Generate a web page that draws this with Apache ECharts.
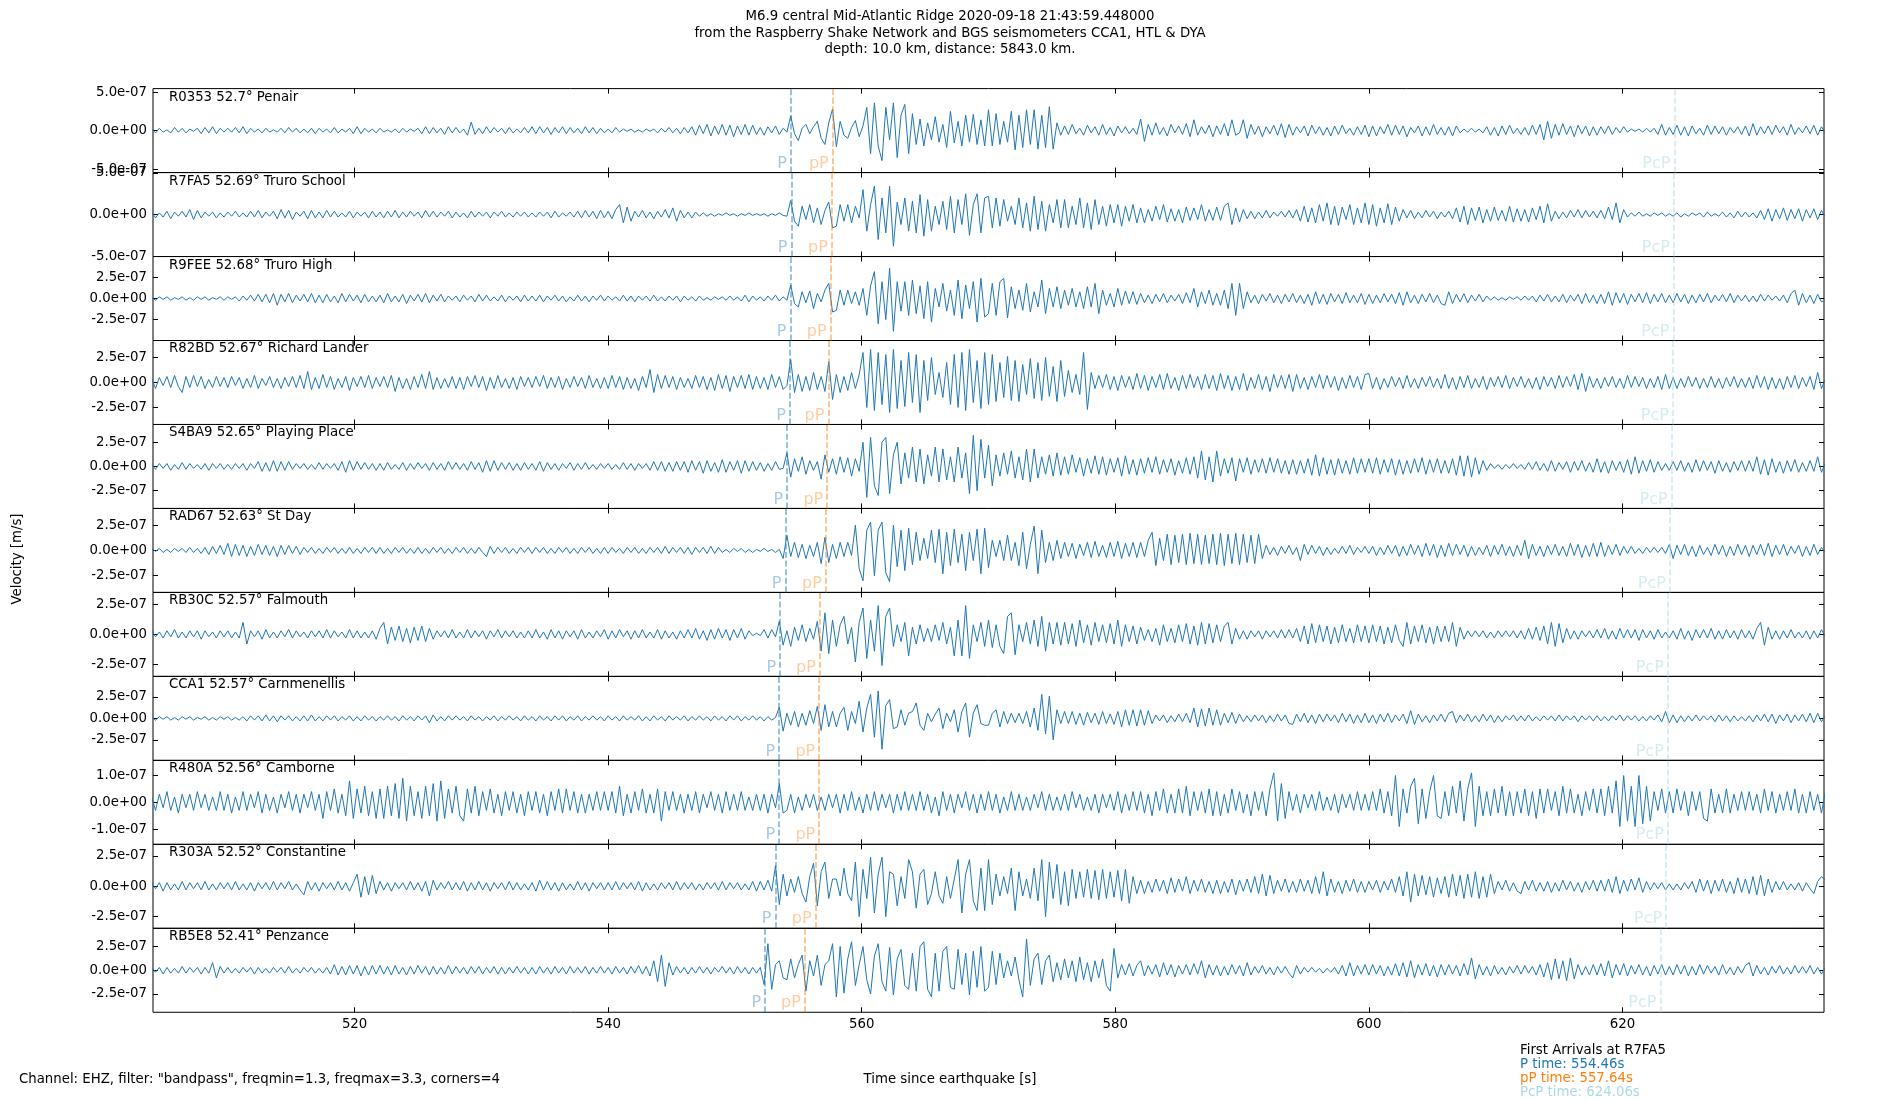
<!DOCTYPE html>
<html>
<head>
<meta charset="utf-8">
<title>M6.9 central Mid-Atlantic Ridge - Raspberry Shake & BGS</title>
<script src="https://cdn.jsdelivr.net/npm/echarts@6/dist/echarts.min.js"></script>
<style>
  html, body { margin: 0; padding: 0; background: #fff; }
  #chart { width: 1900px; height: 1100px; }
</style>
</head>
<body>
<div id="chart"></div>
<script>
// time axis (seconds since the earthquake)
const T0 = 504.0;       // time of first sample
const DT = 0.3;         // sample spacing
const ROW_SPAN = 6.0;   // each data row below covers 6 s (20 samples)
const X_MIN = 504.1, X_MAX = 635.9;
const X_TICKS = [520, 540, 560, 580, 600, 620];

const stations = [
  'R0353 52.7° Penair', 'R7FA5 52.69° Truro School', 'R9FEE 52.68° Truro High',
  'R82BD 52.67° Richard Lander', 'S4BA9 52.65° Playing Place', 'RAD67 52.63° St Day',
  'RB30C 52.57° Falmouth', 'CCA1 52.57° Carnmenellis', 'R480A 52.56° Camborne',
  'R303A 52.52° Constantine', 'RB5E8 52.41° Penzance'
];
const yLimit = [5.45e-7, 5.05e-7, 4.99e-7, 4.2e-7, 4.33e-7, 4.15e-7, 3.5e-7, 4.9e-7, 1.565e-7, 3.46e-7, 4.42e-7];
const yStep  = [5e-7, 5e-7, 2.5e-7, 2.5e-7, 2.5e-7, 2.5e-7, 2.5e-7, 2.5e-7, 1e-7, 2.5e-7, 2.5e-7];

// phase arrival times per station
const pTime   = [554.41, 554.46, 554.37, 554.33, 554.12, 553.99, 553.57, 553.48, 553.48, 553.19, 552.38];
const pPTime  = [557.71, 557.64, 557.54, 557.37, 557.28, 557.17, 556.70, 556.65, 556.65, 556.36, 555.52];
const PcPTime = [624.10, 624.06, 624.02, 623.98, 623.88, 623.75, 623.58, 623.58, 623.58, 623.45, 623.00];

// filtered velocity, units of 1e-8 m/s
const R0353 = [
  [2,-3,3,-2,1,-3,4,-2,3,-3,2,-1,3,-4,4,-3,5,-4,3,-2],
  [3,-2,4,-3,5,-4,3,-2,2,-3,3,-2,1,-2,3,-3,4,-2,3,-3],
  [2,-3,3,-4,3,-2,2,-3,4,-3,2,-2,3,-4,5,-4,3,-2,2,-3],
  [3,-2,1,-2,2,-3,3,-2,2,-1,3,-4,5,-4,4,-3,3,-5,5,-3],
  [4,-3,2,-6,11,-5,3,-4,5,-3,4,-2,3,-4,4,-3,2,-3,4,-3],
  [5,-4,5,-3,4,-5,4,-3,5,-4,4,-3,3,-4,5,-3,4,-4,3,-3],
  [2,-3,4,-2,2,-1,2,-2,1,-2,2,-1,2,-3,3,-2,4,-3,3,-4],
  [4,-3,5,-6,7,-4,8,-7,6,-5,8,-6,7,-8,6,-5,8,-6,7,-5],
  [4,-6,5,-3,6,-5,3,-2,19,-4,-13,3,8,-4,5,12,-10,-18,10,28],
  [-21,12,-6,-10,4,13,-8,6,30,-30,36,-20,-39,30,-12,36,-35,20,34,-30],
  [22,-18,15,-20,10,-12,18,-15,8,-22,25,-16,12,-20,20,-15,21,-18,14,-20],
  [27,-20,22,-18,12,-15,25,-25,20,-22,27,-18,27,-24,20,-22,31,-24,10,-6],
  [6,-5,8,-4,3,-6,7,-3,5,-6,8,-5,4,-7,6,-3,5,-4,3,-5],
  [15,-14,8,-6,10,-5,4,-7,8,-3,6,-5,9,-8,14,-6,5,-4,7,-8],
  [6,-5,9,-7,14,-6,-3,14,-10,8,-5,6,-8,5,-4,7,-6,9,-9,8],
  [-6,5,-3,6,-7,7,-4,5,-6,4,-7,6,-5,7,-4,3,-6,5,-5,7],
  [-8,6,-7,5,-4,8,-6,7,-5,6,-8,4,-3,6,-7,5,-6,8,-5,4],
  [-6,5,-7,6,-3,2,-2,3,-2,2,-3,5,-6,4,-7,6,-5,7,-4,3],
  [-5,4,-6,7,-5,8,-12,12,-10,8,-6,9,-5,6,-8,7,-4,6,-7,5],
  [-6,5,-4,6,-5,4,-3,5,-2,2,-1,2,-2,3,-2,3,-5,8,-6,4],
  [-5,7,-6,5,-7,6,-4,3,-6,7,-5,6,-4,5,-6,4,-3,5,-5,6],
  [-7,9,-6,5,-4,6,-5,7,-3,5,-6,8,-5,4,-3,6,-4,7,-6,5],
  [-3]
];
const R7FA5 = [
  [3,-4,2,-3,4,-5,3,-2,4,-3,6,-6,5,-4,3,-2,3,-4,2,-3],
  [3,-2,4,-3,2,-3,4,-3,5,-4,3,-2,4,-5,6,-4,5,-6,3,-2],
  [4,-5,5,-4,3,-4,5,-3,4,-3,2,-3,4,-4,3,-2,3,-4,4,-3],
  [3,-4,4,-3,5,-4,3,-3,4,-2,3,-4,5,-3,4,-3,3,-2,4,-4],
  [3,-3,2,-4,4,-3,3,-2,3,-4,3,-2,4,-3,2,-3,3,-2,3,-3],
  [2,-3,3,-2,3,-4,4,-3,2,-2,3,-3,4,-4,5,-3,4,-5,5,-4],
  [4,-5,6,12,-10,9,-8,4,-3,5,-4,3,-5,4,-3,6,-4,8,-8,5],
  [-4,3,-4,3,-2,2,-2,1,-2,1,-1,2,-1,1,-2,1,-1,2,-1,1],
  [-1,1,-2,1,-1,2,-1,-2,17,-8,-14,10,-6,12,-10,8,-12,5,15,-16],
  [-14,12,-8,12,-10,10,-4,30,-20,12,34,-30,20,-22,34,-38,15,-12,20,-20],
  [16,-22,24,-26,18,-20,10,-12,16,-18,22,-22,18,-12,25,-25,12,25,-22,20],
  [22,-16,20,-14,18,-8,10,-12,20,-16,14,-20,22,-18,16,-20,12,-10,18,-16],
  [18,-16,10,-12,20,-16,14,-18,18,-12,10,-14,12,-10,12,-14,10,-8,12,-10],
  [8,-10,6,-8,10,-6,12,-9,7,-8,6,-10,9,-7,8,-6,12,-8,6,-7],
  [9,-7,10,14,-12,8,-9,6,-5,4,-5,3,-4,5,-4,3,-2,4,-3,5],
  [-4,6,-8,10,-9,8,-10,12,-8,14,-12,10,-13,9,-6,12,-12,8,-10,14],
  [-12,12,-14,8,-10,13,-12,9,-8,6,-4,5,-5,3,-4,5,-3,4,-5,3],
  [-3,4,-5,8,-9,10,-12,8,-7,9,-10,6,-8,9,-7,5,-8,10,-9,7],
  [-8,6,-9,8,-6,10,-10,13,-8,4,-5,3,-4,5,-3,6,-4,5,-3,4],
  [-4,5,-5,9,-6,14,-10,6,-3,2,-2,3,-2,1,-2,2,-1,2,-2,1],
  [-2,2,-3,1,-2,2,-1,2,-3,3,-2,1,-2,3,-3,2,-4,4,-3,3],
  [-3,2,-4,5,-6,7,-8,6,-5,8,-7,6,-5,7,-8,6,-4,7,-6,5],
  [-3]
];
const R9FEE = [
  [1,-2,2,-1,2,-2,1,-1,2,-2,1,-2,2,-1,2,-2,1,-1,2,-2],
  [2,-1,2,-3,3,-2,4,-3,5,-4,5,-5,6,-8,5,-4,6,-5,4,-3],
  [5,-4,6,-5,4,-5,5,-4,3,-5,6,-4,5,-3,4,-5,5,-4,3,-4],
  [4,-5,6,-4,3,-4,5,-6,4,-3,5,-4,6,-5,4,-3,5,-4,3,-2],
  [3,-4,4,-2,3,-4,5,-3,4,-3,2,-3,4,-4,3,-2,3,-4,4,-3],
  [3,-3,4,-4,3,-2,4,-3,3,-4,2,-3,4,-3,3,-4,3,-2,4,-3],
  [3,-2,2,-3,4,-3,3,-4,3,-2,3,-3,4,-3,2,-3,3,-2,3,-4],
  [3,-2,2,-3,3,-2,1,-2,2,-1,2,-2,3,-2,2,-3,4,-4,3,-2],
  [2,-3,3,-2,4,-3,2,-2,16,-6,-10,8,-5,9,-12,6,-4,10,18,-16],
  [-14,10,-8,10,-6,8,-8,12,-20,15,32,-30,20,-25,36,-39,20,-15,20,-20],
  [22,-18,15,-24,20,-28,12,-10,18,-15,10,-20,22,-24,16,-12,20,-28,24,-22],
  [-18,18,-20,20,24,-23,14,-12,10,-14,18,-16,8,-10,22,-18,12,-10,14,-12],
  [10,-8,12,-10,8,-12,14,-10,18,-18,10,-8,6,-10,12,-8,9,-6,8,-7],
  [6,-5,4,-6,5,-4,6,-5,4,-3,5,-6,7,-5,12,-10,8,-6,10,-8],
  [6,-8,10,-12,18,-20,18,-12,8,-5,4,-6,5,-3,6,-5,4,-6,5,-4],
  [6,-5,4,-6,5,-8,8,-6,5,-7,6,-4,5,-6,7,-5,4,-5,6,-7],
  [5,-6,4,-5,6,-4,5,-6,7,-8,8,-5,4,-6,5,-4,6,-5,4,-6],
  [-8,8,-6,5,-4,6,-5,4,-3,5,-4,3,-2,2,-2,1,-2,2,-1,2],
  [-2,3,-2,3,-4,4,-3,5,-4,3,-4,5,-5,4,-3,5,-6,6,-5,4],
  [-6,5,-6,8,-8,7,-5,6,-7,5,-4,6,-5,7,-6,5,-4,6,-5,4],
  [-5,6,-4,5,-6,4,-5,5,-4,6,-5,4,-3,5,-4,6,-5,4,-3,4],
  [-4,3,-4,5,-3,4,-2,3,-3,4,-5,6,10,-8,6,-5,4,-6,5,-4],
  [-2]
];
const R82BD = [
  [4,-6,5,-3,6,-5,7,-4,-10,6,-5,7,-4,6,-6,3,-5,6,-4,5],
  [-5,6,-3,5,-6,4,-5,7,-6,4,-3,6,-5,4,-6,5,-4,6,-5,7],
  [-6,11,-7,5,-6,8,-5,6,-7,4,-5,6,-8,5,-4,6,-5,7,-6,5],
  [-4,6,-5,7,-9,5,-6,4,-7,6,-5,8,-6,11,-7,5,-6,4,-5,6],
  [-6,5,-7,6,-4,7,-5,6,-8,5,-6,7,-5,4,-6,5,-7,6,-4,5],
  [-5,6,-4,7,-6,5,-5,6,-7,4,-5,6,-4,5,-6,7,-5,4,-6,5],
  [-6,7,-5,6,-7,5,-6,4,-8,6,-5,13,-10,8,-6,7,-5,6,-7,5],
  [-5,4,-6,7,-5,6,-7,5,-8,8,-6,7,-9,6,-5,7,-6,8,-7,6],
  [-6,5,-7,8,-5,6,-7,-3,23,-10,8,-9,6,-8,10,-7,6,-9,21,-17],
  [8,-10,6,-8,10,-6,8,30,-25,33,-28,30,-22,28,-30,33,-26,22,-24,30],
  [-20,28,-30,22,-18,25,-12,10,-15,20,-22,28,-25,30,-28,33,-20,22,-26,30],
  [-22,28,-19,20,-15,26,-18,22,-19,18,-12,24,-16,20,-18,25,-14,16,-19,22],
  [-14,12,-10,8,-12,30,-27,10,-6,7,-5,8,-7,6,-8,7,-5,6,-7,9],
  [-6,7,-8,6,-5,8,-7,9,-6,5,-8,7,-6,8,-5,6,-7,8,-6,7],
  [-8,9,-6,7,-8,6,-7,9,-8,5,-6,8,-7,6,-9,8,-5,7,-6,8],
  [-9,8,-6,5,-7,6,-5,8,-6,7,-5,6,-8,5,-6,7,-5,6,-7,8],
  [9,-6,5,-7,4,-5,6,-4,5,-6,7,-5,4,-6,5,-4,6,-5,4,-6],
  [8,-6,5,-7,6,-5,7,-6,4,-5,6,-7,5,-4,6,-5,7,-6,5,-4],
  [6,-5,4,-6,5,-7,6,-4,5,-6,7,-5,6,-4,8,-7,9,-9,6,-5],
  [4,-6,5,-4,6,-5,4,-6,7,-5,6,-4,5,-6,4,-5,6,-7,8,-6],
  [5,-6,4,-5,6,-4,5,-6,4,-5,6,-5,4,-6,5,-4,6,-5,4,-5],
  [5,-6,7,-5,6,-7,5,-6,4,-7,6,-5,7,-6,5,-4,6,-7,10,-6],
  [3]
];
const S4BA9 = [
  [2,-3,3,-2,3,-4,2,-3,4,-3,3,-2,2,-3,3,-4,3,-2,3,-3],
  [2,-3,3,-2,3,-4,3,-2,5,-5,4,-5,6,-5,5,-4,5,-3,3,-2],
  [3,-3,2,-3,4,-3,3,-2,3,-4,5,-6,6,-4,5,-3,4,-3,3,-4],
  [3,-4,4,-3,2,-3,4,-4,3,-3,4,-2,3,-4,4,-3,3,-4,5,-3],
  [4,-3,3,-4,5,-3,4,-6,6,-5,6,-4,4,-3,4,-4,3,-4,4,-3],
  [3,-4,5,-5,4,-3,3,-4,3,-2,4,-4,3,-3,4,-3,2,-3,3,-2],
  [3,-3,2,-3,4,-3,3,-4,3,-2,3,-4,5,-4,5,-5,4,-5,5,-4],
  [5,-6,6,-4,5,-7,6,-5,4,-6,7,-6,5,-4,6,-7,6,-5,5,-4],
  [4,-5,3,-4,5,-3,-2,14,-11,8,-5,10,-8,6,-4,5,-13,12,-6,8],
  [-8,10,-6,9,-10,8,-5,25,-32,30,-20,-30,25,30,-28,12,25,-18,14,-12],
  [20,-16,18,-18,12,-10,20,-16,18,-14,10,-16,20,-12,14,-28,32,-25,28,-12],
  [22,-20,12,-10,14,-8,16,-12,10,-14,18,-16,18,-12,10,-8,12,-10,14,-9],
  [10,-8,12,-6,9,-10,8,-7,11,-8,10,-9,8,-6,9,-10,11,-8,7,-9],
  [8,-7,9,-6,10,-8,7,-6,8,-9,6,-7,9,-8,10,-12,16,-14,10,-16],
  [16,-10,8,-7,9,-15,8,-6,9,-8,7,-6,8,-7,9,-6,8,-7,6,-8],
  [7,-8,6,-7,8,-9,12,-10,9,-8,7,-9,8,-7,6,-8,9,-7,8,-6],
  [8,-7,9,-8,7,-6,8,-9,7,-8,6,-7,8,-6,9,-8,7,-6,8,-7],
  [6,-7,8,-9,11,-10,11,-11,9,-8,6,-4,3,-2,2,-3,2,-2,3,-2],
  [2,-3,4,-3,5,-4,3,-5,6,-5,4,-3,5,-6,5,-4,6,-5,4,-6],
  [8,-6,5,-7,6,-4,5,-6,7,-8,10,-7,6,-5,7,-6,5,-4,3,-4],
  [5,-4,6,-5,4,-6,7,-5,6,-4,5,-7,6,-5,4,-6,5,-4,6,-5],
  [6,-5,10,-8,7,-9,8,-6,5,-7,6,-5,7,-6,4,-5,6,-5,10,-6],
  [3]
];
const RAD67 = [
  [2,-1,2,-2,1,-2,2,-1,2,-2,3,-2,2,-3,3,-4,4,-3,5,-4],
  [7,-6,6,-5,5,-6,4,-5,6,-4,5,-5,4,-6,5,-4,5,-3,4,-4],
  [3,-2,3,-3,2,-3,3,-2,3,-3,2,-3,3,-3,2,-3,3,-2,3,-3],
  [3,-3,2,-3,3,-2,3,-3,2,-3,3,-3,2,-3,3,-2,3,-3,2,-3],
  [3,-2,3,-3,2,-3,3,-2,-6,4,-3,3,-2,3,-3,2,-3,3,-2,3],
  [-3,3,-2,3,-3,2,-3,3,-2,3,-3,2,-3,3,-2,3,-3,2,-3,3],
  [-3,3,-2,2,-3,3,-2,3,-3,2,-3,3,-2,3,-3,4,-3,3,-2,3],
  [-3,3,-4,3,-2,3,-3,4,-3,3,-2,1,-2,2,-1,2,-2,1,-2,1],
  [-1,2,-1,1,-2,1,-8,15,-6,8,-7,6,-8,5,-6,8,-13,13,-12,6],
  [-8,8,-6,8,-5,25,-18,-30,20,28,-25,20,28,-22,-31,25,-16,20,-20,22],
  [-14,18,-10,12,-8,20,-12,21,-23,18,-15,21,-12,16,-20,18,-10,21,-23,22],
  [-17,10,-6,10,-10,15,-10,8,-15,18,-18,6,24,-23,20,-12,8,-10,10,-8],
  [8,-6,7,-8,6,-5,8,-7,9,-6,5,-7,8,-6,9,-8,7,-6,8,-7],
  [8,-6,10,18,-15,12,-10,16,-14,15,-12,16,-14,17,-13,16,-14,15,-13,16],
  [-14,17,-15,16,-13,17,-14,16,-12,15,-13,16,-8,5,-4,3,-5,4,-3,5],
  [-4,3,-10,6,-4,5,-3,4,-5,3,-4,2,-3,4,-3,5,-4,3,-2,4],
  [-3,4,-5,3,-4,5,-3,5,-6,4,-5,6,-4,5,-6,7,-5,6,-7,5],
  [-6,7,-5,6,-4,5,-6,4,-5,3,-4,5,-6,5,-4,6,-5,4,-6,5],
  [-5,10,-8,6,-5,4,-6,5,-4,6,-5,4,-6,7,-5,6,-7,5,-6,7],
  [-6,8,-6,5,-4,6,-5,4,-3,4,-3,2,-3,3,-2,3,-2,3,-3,6],
  [-8,5,-4,6,-5,4,-6,5,-4,3,-5,6,-4,5,-6,4,-5,6,-4,5],
  [-6,5,-4,6,-5,7,-6,5,-4,6,-5,4,-3,5,-6,4,-5,6,-4,3],
  [-2]
];
const RB30C = [
  [3,-2,2,-3,3,-2,4,-3,2,-3,3,-2,3,-4,3,-2,2,-3,3,-2],
  [3,-3,2,-3,10,-8,3,-2,3,-4,4,-3,2,-3,3,-2,4,-3,3,-2],
  [2,-3,3,-2,3,-3,4,-3,3,-2,2,-3,4,-3,3,-3,2,-3,3,-4],
  [5,10,-8,6,-5,7,-6,5,-7,6,-5,7,-6,5,-4,3,-2,3,-3,4],
  [-3,2,-3,4,-3,3,-2,3,-4,3,-2,4,-3,3,-2,3,-3,2,-3,3],
  [-3,4,-3,2,-4,4,-3,3,-4,3,-2,3,-4,4,-3,2,-3,3,-2,4],
  [-4,3,-3,4,-2,3,-4,3,-3,4,-3,2,-3,4,-4,3,-3,2,-4,3],
  [-3,4,-3,5,-4,3,-5,4,-4,5,-3,4,-5,4,-3,5,-4,3,-1,1],
  [-1,4,-3,4,-2,11,-9,3,-10,6,-5,8,-6,5,-4,11,-14,18,-16,12],
  [-10,8,15,-8,6,-23,10,22,-20,12,-14,24,-26,15,22,-10,8,-6,10,-18],
  [6,-8,8,-6,5,-6,8,-5,10,-8,6,-18,12,-18,24,-20,8,-6,10,-10],
  [12,-11,8,-10,-16,15,18,-17,8,-6,10,-8,12,-10,15,-14,10,-8,10,-9],
  [10,-8,9,-10,12,-7,8,-9,10,-6,8,-7,9,-8,12,-10,8,-6,7,-8],
  [6,-5,4,-6,5,-9,8,-6,5,-7,8,-6,9,-8,7,-9,10,-8,9,-7],
  [8,-6,7,10,-8,5,-4,3,-4,3,-2,3,-4,3,-2,3,-3,4,-3,4],
  [-3,5,-6,7,-8,9,-7,8,-6,7,-8,6,-7,8,-6,5,-7,8,-6,7],
  [-7,8,-6,7,-8,6,-7,8,-5,-10,10,-8,7,-6,8,-7,6,-8,7,-6],
  [7,-6,10,-10,6,-4,3,-2,3,-2,3,-3,2,-3,3,-2,3,-2,3,-3],
  [3,-4,5,-4,6,-5,7,-8,10,-10,9,-7,5,-4,3,-4,3,-2,3,-3],
  [4,-3,5,-4,3,-4,5,-3,4,-3,4,-5,4,-3,3,-4,4,-3,2,-3],
  [3,-4,5,-4,3,-5,4,-3,4,-3,5,-4,3,-4,4,-3,3,-4,4,-3],
  [3,-4,5,10,-9,6,-4,3,-4,3,-3,4,-3,2,-3,3,-4,3,-3,4],
  [-2]
];
const CCA1 = [
  [1,-2,2,-1,2,-2,1,-2,2,-1,2,-2,1,-1,2,-2,1,-2,2,-1],
  [2,-2,1,-2,2,-3,3,-2,3,-3,4,-3,3,-4,3,-2,3,-3,2,-3],
  [3,-3,4,-3,2,-3,3,-2,3,-3,2,-2,3,-3,2,-3,3,-2,2,-3],
  [2,-2,3,-2,2,-3,3,-2,2,-3,3,-2,3,-5,4,-3,2,-3,3,-2],
  [3,-2,2,-3,3,-2,2,-3,2,-2,3,-3,2,-2,3,-2,2,-3,3,-2],
  [2,-3,3,-2,2,-3,3,-2,3,-3,2,-2,3,-3,2,-2,3,-2,2,-3],
  [3,-2,2,-3,3,-2,2,-2,3,-3,2,-3,3,-2,2,-3,3,-2,2,-2],
  [3,-3,2,-2,3,-2,2,-3,3,-2,2,-3,3,-2,3,-3,2,-2,3,-2],
  [2,-3,2,-2,1,13,-15,6,-8,8,-10,6,-8,9,-6,14,-14,16,-10,8],
  [-10,6,13,-14,8,-6,20,-16,12,28,-22,32,-36,15,22,-12,-10,10,-8,6],
  [8,18,-8,-14,6,-4,5,12,-12,6,-4,10,-16,8,18,-22,6,16,-6,-8],
  [-8,6,10,-10,8,-6,6,-5,6,-6,8,-10,12,-14,28,-18,26,-25,10,-6],
  [8,-6,8,-7,6,-8,7,-5,6,-7,8,-6,5,-7,8,-10,10,-8,10,-9],
  [10,-8,9,-6,4,-3,4,-5,3,-4,5,-4,6,-5,12,-10,11,-9,12,-8],
  [10,-8,6,-5,7,-6,5,-4,3,-4,4,-3,4,-5,3,-4,5,-3,4,-6],
  [-7,5,-4,6,-5,4,-6,5,-4,5,-3,4,-5,6,-4,5,-6,4,-5,6],
  [-5,4,-6,5,-4,6,-5,4,-3,5,-6,9,-7,5,-4,3,-5,4,-3,5],
  [-4,6,8,-5,4,-3,5,-4,3,-4,5,-3,4,-5,3,-4,3,-2,4,-3],
  [3,-3,4,-3,2,-3,3,-2,3,-3,4,-3,3,-2,3,-4,3,-2,3,-3],
  [3,-3,2,-3,3,-2,4,-3,3,-2,3,-3,2,-3,3,-2,4,-4,8,-5],
  [4,-5,3,-4,3,-3,4,-3,3,-2,3,-4,4,-3,3,-4,3,-3,2,-3],
  [3,-4,4,-3,5,-4,5,-6,4,-3,5,-5,4,-3,5,-4,6,-5,6,-4],
  [3]
];
const R480A = [
  [2,-3,3,-2,4,-3,2,-4,3,-2,3,-3,4,-2,3,-3,2,-3,4,-3],
  [3,-4,2,-3,4,-3,3,-2,4,-4,3,-3,2,-4,3,-2,4,-3,3,-4],
  [3,-2,4,-3,3,-6,4,-3,5,-4,3,-5,8,-6,5,-4,6,-5,4,-6],
  [5,-6,6,-5,7,-6,9,-7,6,-5,4,-6,6,-5,7,-7,8,-6,5,-4],
  [6,-5,-7,5,-4,6,-5,4,-3,5,-4,3,-5,4,-3,4,-4,3,-5,4],
  [-3,4,-4,3,-5,4,-3,5,-4,5,-3,4,-4,3,-4,3,-3,4,-3,4],
  [-3,4,-4,6,-5,3,-4,4,-3,5,-4,3,-4,5,-7,4,-3,4,-3,3],
  [-4,3,-3,4,-4,3,-2,4,-3,3,-4,4,-3,3,-3,4,-3,2,-3,3],
  [-3,3,-4,3,-2,7,-4,-3,3,-4,2,-3,3,-2,3,-3,2,-3,3,-2],
  [3,-4,3,-3,4,-3,2,-4,3,-3,4,-3,3,-2,3,-4,3,-3,4,-3],
  [3,-3,4,-3,3,-4,2,-5,4,-3,3,-4,3,-2,4,-3,3,-4,3,-3],
  [4,-3,3,-4,2,-3,4,-3,3,-3,2,-3,3,-2,4,-3,3,-3,2,-3],
  [3,-3,4,-2,3,-3,2,-3,3,-4,3,-2,3,-3,4,-4,3,-3,4,-3],
  [4,-4,3,-5,4,-3,5,-4,3,-4,5,-4,6,-5,4,-3,4,-4,5,-5],
  [4,-5,3,-4,5,-3,4,-4,3,-5,4,-3,4,-5,5,11,-7,7,-6,4],
  [-3,3,-4,3,-2,3,-3,4,-3,2,-3,3,-4,3,-2,3,-3,4,-3,3],
  [-3,4,-3,5,-4,4,-5,10,-9,5,-4,6,9,-8,5,-6,4,10,-5,-6],
  [4,-5,6,-4,8,-7,5,11,-9,6,-5,4,-5,5,-4,6,-5,4,-5,4],
  [-4,5,-5,4,-6,5,-4,5,-3,4,-5,6,-4,5,-4,3,-5,4,-3,5],
  [-4,5,-5,6,-4,8,-9,10,-7,6,-9,10,-8,6,-7,4,-3,5,-4,4],
  [-4,5,-3,4,-5,4,-3,4,-6,-7,5,-4,3,-4,5,-4,3,-3,4,-3],
  [4,-3,3,-4,5,-3,4,-4,3,-3,4,-3,5,-4,3,-4,4,-3,3,-4],
  [4]
];
const R303A = [
  [3,-2,3,-4,3,-3,2,-3,4,-3,3,-2,3,-3,4,-3,2,-3,3,-2],
  [3,-3,4,-3,2,-3,3,-4,3,-2,3,-3,4,-3,3,-2,4,-3,2,-3],
  [-7,4,-3,3,-4,3,-2,3,-3,4,-3,3,-4,3,10,-9,8,-7,9,-6],
  [4,-3,3,-4,3,-2,3,-3,4,-3,3,-4,4,-8,5,-3,3,-2,4,-3],
  [3,-3,4,-4,3,-3,4,-3,3,-4,3,-2,3,-3,4,-3,3,-3,2,-3],
  [3,-4,5,-3,4,-3,3,-4,3,-3,2,-3,4,-3,3,-4,3,-2,3,-3],
  [3,-3,4,-3,3,-2,3,-3,4,-4,3,-3,2,-3,3,-2,3,-3,4,-3],
  [3,-2,3,-3,2,-3,3,-2,3,-3,4,-3,3,-2,3,-3,2,-3,4,-4],
  [4,-3,5,-4,17,-15,10,-8,6,-5,8,-6,-13,8,19,-16,12,20,-10,6],
  [6,-8,15,-6,-12,20,-25,14,-10,24,-22,10,24,-25,12,10,-16,8,-10,22],
  [12,-18,10,14,-15,-6,12,-8,-14,8,-10,6,22,-22,10,22,-12,-20,15,-20],
  [22,-15,10,-8,8,-6,15,-20,12,-8,6,-10,15,-12,22,-25,20,-10,18,-15],
  [12,-16,14,-10,12,-9,14,-10,13,-11,14,-10,12,-9,13,-12,14,-14,8,-6],
  [5,-6,4,-5,6,-4,5,-6,7,-5,6,-4,8,-6,5,-4,6,-5,4,-6],
  [5,-6,4,-5,6,-7,5,-4,6,-5,8,-6,10,-8,9,-6,5,-4,6,-5],
  [4,-5,6,-4,5,-6,8,-6,12,-8,6,-5,4,-6,5,-4,6,-5,4,-5],
  [4,-3,5,-5,4,-3,6,-5,8,-8,12,-13,10,-8,9,-7,8,-9,7,-6],
  [8,-9,10,-8,9,-10,10,-9,12,-10,8,-9,10,-6,4,-3,5,-4,3,-4],
  [-6,4,-3,5,-4,3,-4,4,-5,3,-4,5,-3,4,-4,3,-5,4,-3,5],
  [-4,5,-4,6,-5,8,-6,5,-4,6,-3,7,-5,4,-3,3,-2,3,-3,2],
  [-3,2,-3,3,-2,4,-5,6,-4,5,-6,5,-4,6,-5,4,-6,7,-5,6],
  [-6,8,-7,9,-8,6,-5,4,-3,4,-3,2,-3,3,-4,3,-2,-6,4,8],
  [5]
];
const RB5E8 = [
  [3,-2,3,-4,3,-3,2,-3,4,-3,3,-2,3,-4,3,-3,8,-8,4,-3],
  [3,-3,2,-3,3,-2,3,-4,3,-3,2,-3,3,-2,3,-3,4,-3,2,-3],
  [3,-2,3,-3,2,-3,3,-4,6,-5,4,-5,5,-4,5,-6,4,-5,5,-4],
  [5,-4,4,-5,5,-4,3,-5,4,-4,5,-3,4,-5,4,-4,3,-4,5,-4],
  [4,-3,3,-4,4,-3,4,-4,3,-3,4,-4,3,-4,3,-3,4,-3,3,-4],
  [3,-4,4,-3,3,-4,4,-3,3,-4,4,-3,3,-3,4,-4,3,-3,4,-3],
  [3,-4,4,-3,3,-4,4,-3,5,-4,4,-6,10,-12,16,-17,8,-5,4,-3],
  [3,-4,3,-3,4,-3,3,-4,3,-2,4,-3,3,-4,4,-3,3,-4,3,-3],
  [3,-15,28,-20,6,10,-8,-10,12,-8,6,16,-22,10,-6,16,-16,6,10,28],
  [-28,25,-24,12,30,-16,6,25,-10,-25,15,28,-12,-22,24,-26,12,22,-16,-20],
  [18,-22,25,30,-20,-28,18,-22,20,25,-18,-20,22,-15,18,-26,20,-18,25,-22],
  [-18,20,-15,18,-8,10,-6,14,-10,-28,33,-16,12,18,-15,10,16,-12,8,-10],
  [12,-8,10,-12,14,-10,8,-12,10,-8,12,-16,-22,23,-8,6,-5,7,-6,5],
  [10,-6,5,-4,6,-7,8,-5,6,-7,5,-4,6,-5,7,-4,10,-8,6,-5],
  [5,-6,4,-5,6,-4,5,-6,8,-5,4,-3,5,-4,3,-5,4,-3,4,-3],
  [-8,5,-4,3,-2,3,-2,2,-3,2,-2,3,-4,5,-6,8,-6,5,-4,6],
  [-5,6,-4,5,-6,4,-5,7,-6,8,-7,10,-8,6,-5,7,-6,5,-7,6],
  [-5,6,-4,5,-6,7,-5,13,-9,6,-5,4,-6,5,-4,3,-5,4,-3,5],
  [-4,5,-3,4,-5,6,-7,8,-10,12,-9,10,-11,13,-9,6,-5,4,-5,6],
  [-5,7,-6,10,-8,6,-5,7,-6,5,-4,6,-5,4,-6,5,-4,6,-5,4],
  [-5,6,-4,5,-6,4,-5,6,-4,5,-3,4,-5,6,-4,3,-5,4,-3,5],
  [8,-6,5,-4,3,-5,4,-3,5,-4,3,-4,5,-3,4,-3,5,-4,3,-4],
  [3]
];
const traces = [R0353, R7FA5, R9FEE, R82BD, S4BA9, RAD67, RB30C, CCA1, R480A, R303A, RB5E8];

// layout
const FONT = 'DejaVu Sans';
const FS = 13.3;
const LEFT = 153, RIGHT = 76, TOP0 = 88.6, PANEL_H = 83.97;

const chart = echarts.init(document.getElementById('chart'));

function toPoints(rows) {
  const pts = [];
  rows.forEach((row, r) => {
    row.forEach((v, j) => pts.push([T0 + r * ROW_SPAN + j * DT, v * 1e-8]));
  });
  return pts;
}

// matplotlib-like scientific labels: 2.5e-07, 0.0e+00
function sci(v) {
  if (Math.abs(v) < 1e-15) return '0.0e+00';
  const parts = v.toExponential(1).split('e');
  const sign = parts[1][0] === '-' ? '-' : '+';
  const digits = parts[1].replace(/[+-]/, '');
  return parts[0] + 'e' + sign + (digits.length < 2 ? '0' + digits : digits);
}

const grid = [], xAxis = [], yAxis = [], series = [], graphic = [];
const n = traces.length;

for (let i = 0; i < n; i++) {
  const top = TOP0 + i * PANEL_H;
  const yTicks = [-yStep[i], 0, yStep[i]];
  grid.push({
    left: LEFT, right: RIGHT, top: top, height: PANEL_H,
    show: true, borderColor: '#000', borderWidth: 1, backgroundColor: 'transparent'
  });
  ['bottom', 'top'].forEach(pos => {
    xAxis.push({
      gridIndex: i, type: 'value', position: pos, min: X_MIN, max: X_MAX,
      axisLine: { show: false, onZero: false }, splitLine: { show: false },
      axisTick: { show: true, inside: true, length: 5, customValues: X_TICKS, lineStyle: { color: '#000', width: 1 } },
      axisLabel: {
        show: pos === 'bottom' && i === n - 1, customValues: X_TICKS,
        margin: 6, fontSize: FS, fontFamily: FONT, color: '#000'
      }
    });
  });
  ['left', 'right'].forEach(pos => {
    yAxis.push({
      gridIndex: i, type: 'value', position: pos, min: -yLimit[i], max: yLimit[i],
      axisLine: { show: false, onZero: false }, splitLine: { show: false },
      axisTick: { show: true, inside: true, length: 5, customValues: yTicks, lineStyle: { color: '#000', width: 1 } },
      axisLabel: {
        show: pos === 'left', customValues: yTicks, formatter: sci,
        margin: 6, fontSize: FS, fontFamily: FONT, color: '#000'
      }
    });
  });

  const dash = [6, 2.6];
  series.push({
    type: 'line', xAxisIndex: 2 * i, yAxisIndex: 2 * i,
    data: toPoints(traces[i]),
    showSymbol: false, symbol: 'none', silent: true, animation: false,
    lineStyle: { color: '#1f77b4', width: 1 },
    markLine: {
      silent: true, symbol: 'none', animation: false, label: { show: false },
      data: [
        { xAxis: pTime[i], lineStyle: { color: 'rgba(31,119,180,0.6)', type: dash, width: 1.5 } },
        { xAxis: pPTime[i], lineStyle: { color: 'rgba(255,127,14,0.6)', type: dash, width: 1.5 } },
        { xAxis: PcPTime[i], lineStyle: { color: 'rgba(173,216,230,0.6)', type: dash, width: 1.5 } }
      ]
    }
  });
  // phase names at the foot of each dashed line
  series.push({
    type: 'scatter', xAxisIndex: 2 * i, yAxisIndex: 2 * i,
    symbolSize: 0, silent: true, animation: false, clip: false,
    label: { show: true, position: 'left', distance: 4, offset: [0, -9], fontSize: 16, fontFamily: FONT },
    data: [
      { value: [pTime[i], -yLimit[i]], label: { formatter: 'P', color: 'rgba(31,119,180,0.5)' } },
      { value: [pPTime[i], -yLimit[i]], label: { formatter: 'pP', color: 'rgba(255,127,14,0.5)' } },
      { value: [PcPTime[i], -yLimit[i]], label: { formatter: 'PcP', color: 'rgba(173,216,230,0.65)' } }
    ]
  });

  graphic.push({
    type: 'text', x: 169, y: top + 8.5, silent: true,
    style: { text: stations[i], fill: '#000', fontSize: FS, fontFamily: FONT, verticalAlign: 'middle' }
  });
}

function txt(s, x, y, opts) {
  return {
    type: 'text', x: x, y: y, silent: true,
    style: Object.assign({ text: s, fill: '#000', fontSize: FS, fontFamily: FONT, verticalAlign: 'middle' }, opts || {})
  };
}

graphic.push(txt('M6.9 central Mid-Atlantic Ridge 2020-09-18 21:43:59.448000', 950, 16.7, { align: 'center' }));
graphic.push(txt('from the Raspberry Shake Network and BGS seismometers CCA1, HTL & DYA', 950, 33.3, { align: 'center' }));
graphic.push(txt('depth: 10.0 km, distance: 5843.0 km.', 950, 49.3, { align: 'center' }));
graphic.push(txt('Channel: EHZ, filter: "bandpass", freqmin=1.3, freqmax=3.3, corners=4', 19, 1080));
graphic.push(txt('Time since earthquake [s]', 950, 1080, { align: 'center' }));
graphic.push(txt('First Arrivals at R7FA5', 1520, 1051));
graphic.push(txt('P time: 554.46s', 1520, 1065, { fill: '#1f77b4' }));
graphic.push(txt('pP time: 557.64s', 1520, 1079, { fill: '#ff7f0e' }));
graphic.push(txt('PcP time: 624.06s', 1520, 1093, { fill: '#add8e6' }));
graphic.push({
  type: 'text', x: 18, y: 559, rotation: Math.PI / 2, silent: true,
  style: { text: 'Velocity [m/s]', fill: '#000', fontSize: FS, fontFamily: FONT, align: 'center', verticalAlign: 'middle' }
});

chart.setOption({
  backgroundColor: '#fff',
  animation: false,
  grid: grid,
  xAxis: xAxis,
  yAxis: yAxis,
  series: series,
  graphic: graphic
});
</script>
</body>
</html>
